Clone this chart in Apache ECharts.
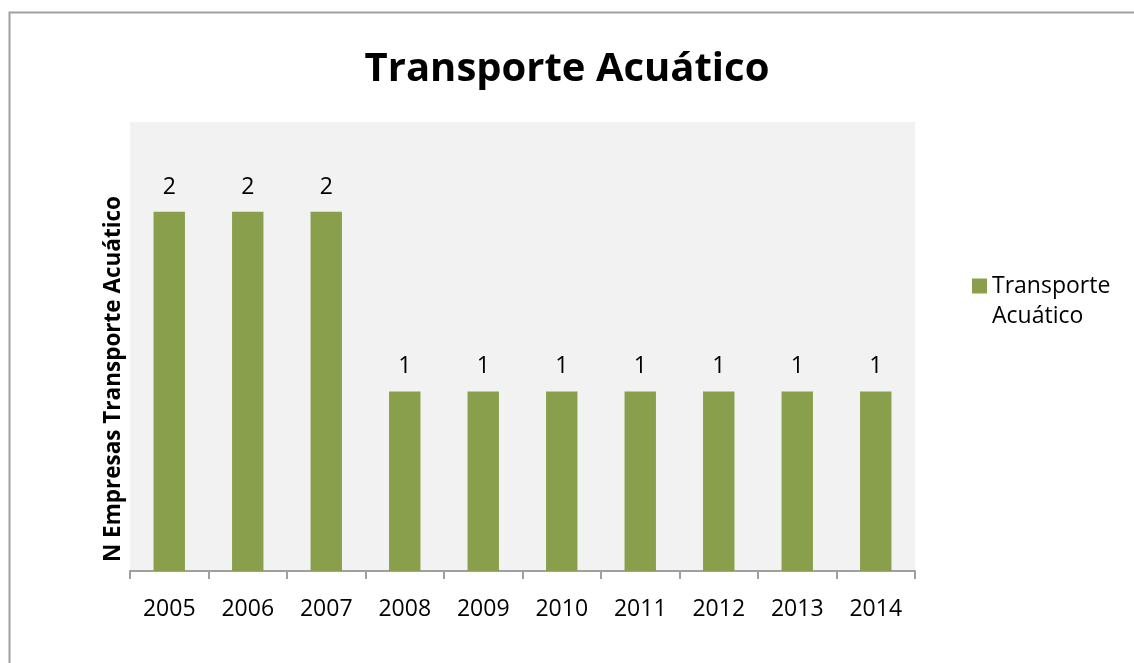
<!DOCTYPE html>
<html><head><meta charset="utf-8">
<script src="https://cdn.jsdelivr.net/npm/echarts@6/dist/echarts.min.js"></script>
<style>html,body{margin:0;padding:0;background:#fff}#c{width:1134px;height:663px}</style>
</head><body><div id="c"></div>
<script>
const categories = ['2005','2006','2007','2008','2009','2010','2011','2012','2013','2014'];
const values = [2,2,2,1,1,1,1,1,1,1];
const seriesName = 'Transporte Acuático';
const chartTitle = 'Transporte Acuático';
const yAxisTitle = 'N Empresas Transporte Acuático';
const font = '"Open Sans", "Liberation Sans", sans-serif';
const chart = echarts.init(document.getElementById('c'));
chart.setOption({
  animation:false,
  backgroundColor:'#fff',
  title:{text:chartTitle,left:'center',top:45,textStyle:{fontFamily:font,fontSize:40,fontWeight:'bold',color:'#000'}},
  legend:{show:true,left:967,top:266,orient:'vertical',itemWidth:15,itemHeight:45,
    icon:'path://M0,0H15V15H0Z M0,45L15,45',
    formatter:()=> 'Transporte\nAcuático',
    textStyle:{fontFamily:font,fontSize:23,color:'#000',lineHeight:30}},
  grid:{left:130,right:219,top:122,bottom:92,show:true,backgroundColor:'#f2f2f2',borderWidth:0},
  xAxis:{type:'category',data:categories,boundaryGap:true,
    axisLine:{lineStyle:{color:'#a0a0a0',width:2}},
    axisTick:{show:true,length:8,lineStyle:{color:'#a0a0a0',width:2}},
    axisLabel:{fontFamily:font,fontSize:23,color:'#000',margin:27}},
  yAxis:{type:'value',min:0,max:2.5,interval:0.5,axisLabel:{show:false},splitLine:{show:false},axisLine:{show:false},axisTick:{show:false}},
  graphic:[
    {type:'rect',left:7,top:10,shape:{width:2000,height:1000},style:{fill:'none',stroke:'#a0a0a0',lineWidth:2},silent:true},
    {type:'text',x:114,y:379,rotation:Math.PI/2,style:{text:yAxisTitle,fontFamily:font,fontSize:22.5,fontWeight:'bold',fill:'#000',align:'center',verticalAlign:'middle'}}
  ],
  series:[{name:seriesName,type:'bar',data:values,barCategoryGap:'60%',itemStyle:{color:'#8a9f4c'},
    label:{show:true,position:'top',distance:13,fontFamily:font,fontSize:23,color:'#000'}}]
});
</script></body></html>
